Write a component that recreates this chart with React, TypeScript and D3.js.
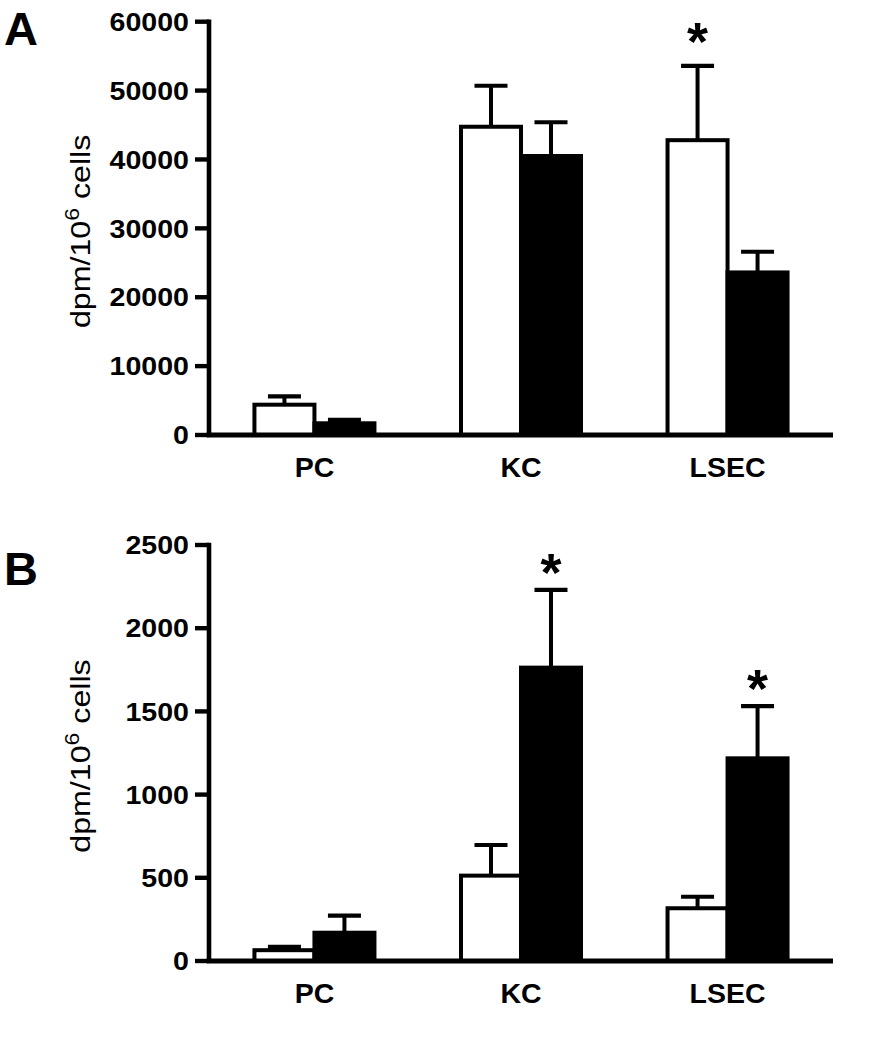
import React from "react";
import * as d3 from "d3";

// ---------- data ----------
const categories = ["PC", "KC", "LSEC"];
const seriesKeys = ["white", "black"];

const aWhite = [4400, 44750, 42800];
const aWhiteErr = [1200, 5950, 10800];
const aBlack = [1700, 40500, 23600];
const aBlackErr = [500, 4900, 3000];
const aTicks = [0, 10000, 20000, 30000, 40000, 50000, 60000];
const aStars = [{ cat: "LSEC", series: "white" }];

const bWhite = [65, 513, 317];
const bWhiteErr = [20, 184, 69];
const bBlack = [170, 1763, 1218];
const bBlackErr = [103, 467, 314];
const bTicks = [0, 500, 1000, 1500, 2000, 2500];
const bStars = [
  { cat: "KC", series: "black" },
  { cat: "LSEC", series: "black" },
];

// ---------- layout ----------
const W = 873;
const H = 1050;
const AX_X = 209;
const AX_END = 833;
const FONT = "'Liberation Sans', Arial, Helvetica, sans-serif";

const panels = [
  {
    letter: "A",
    letterY: 45,
    ticks: aTicks,
    white: aWhite,
    whiteErr: aWhiteErr,
    black: aBlack,
    blackErr: aBlackErr,
    stars: aStars,
    starGap: 33,
    yBottom: 435,
    yTop: 21.7,
  },
  {
    letter: "B",
    letterY: 585,
    ticks: bTicks,
    white: bWhite,
    whiteErr: bWhiteErr,
    black: bBlack,
    blackErr: bBlackErr,
    stars: bStars,
    starGap: 26,
    yBottom: 961,
    yTop: 545,
  },
];

const x = d3
  .scaleBand<string>()
  .domain(categories)
  .range([AX_X, AX_END])
  .paddingInner(0.419)
  .paddingOuter(0.22);

const sub = d3
  .scaleBand<string>()
  .domain(seriesKeys)
  .range([0, x.bandwidth()])
  .padding(0);

function Panel({ p }: { p: (typeof panels)[number] }) {
  const maxTick = p.ticks[p.ticks.length - 1];
  const y = d3.scaleLinear().domain([0, maxTick]).range([p.yBottom, p.yTop]);
  const vals: Record<string, number[]> = { white: p.white, black: p.black };
  const errs: Record<string, number[]> = { white: p.whiteErr, black: p.blackErr };
  const capHalf = 16.5;

  return (
    <g>
      <text x={4} y={p.letterY} fontFamily={FONT} fontWeight="bold" fontSize={47} fill="#000">
        {p.letter}
      </text>

      {/* bars */}
      {categories.map((c, i) =>
        seriesKeys.map((s) => {
          const v = vals[s][i];
          const e = errs[s][i];
          const bx = (x(c) as number) + (sub(s) as number);
          const bw = sub.bandwidth();
          const cx = bx + bw / 2;
          const yv = y(v);
          const ye = y(v + e);
          return (
            <g key={c + s}>
              <line x1={cx} x2={cx} y1={yv} y2={ye} stroke="#000" strokeWidth={4} />
              <line x1={cx - capHalf} x2={cx + capHalf} y1={ye} y2={ye} stroke="#000" strokeWidth={4.2} />
              <rect
                x={bx}
                y={yv}
                width={bw}
                height={p.yBottom - yv}
                fill={s === "white" ? "#fff" : "#000"}
                stroke="#000"
                strokeWidth={4}
              />
            </g>
          );
        })
      )}

      {/* stars */}
      {p.stars.map((st, k) => {
        const i = categories.indexOf(st.cat);
        const v = vals[st.series][i] + errs[st.series][i];
        const cx = (x(st.cat) as number) + (sub(st.series) as number) + sub.bandwidth() / 2;
        return (
          <text
            key={k}
            x={cx}
            y={y(v) + 27 - p.starGap}
            textAnchor="middle"
            fontFamily={FONT}
            fontWeight="bold"
            fontSize={54}
            fill="#000"
          >
            *
          </text>
        );
      })}

      {/* y axis */}
      <line x1={AX_X} x2={AX_X} y1={p.yTop - 2.2} y2={p.yBottom} stroke="#000" strokeWidth={4.6} />
      {p.ticks.map((t) => (
        <g key={t}>
          <line x1={AX_X - 14} x2={AX_X} y1={y(t)} y2={y(t)} stroke="#000" strokeWidth={4.4} />
          <text
            transform={`translate(189,${y(t)}) scale(1.12,1)`}
            dy="0.36em"
            textAnchor="end"
            fontFamily={FONT}
            fontWeight="bold"
            fontSize={25.5}
            fill="#000"
          >
            {t}
          </text>
        </g>
      ))}

      {/* x axis */}
      <line x1={AX_X - 2.3} x2={AX_END} y1={p.yBottom} y2={p.yBottom} stroke="#000" strokeWidth={5} />
      {categories.map((c) => (
        <text
          key={c}
          x={(x(c) as number) + x.bandwidth() / 2}
          y={p.yBottom + 42}
          textAnchor="middle"
          fontFamily={FONT}
          fontWeight="bold"
          fontSize={28.5}
          fill="#000"
        >
          {c}
        </text>
      ))}

      {/* y label */}
      <text
        transform={`translate(90,${(p.yTop + p.yBottom) / 2 + 3}) rotate(-90) scale(1.15,1)`}
        textAnchor="middle"
        fontFamily={FONT}
        fontSize={28}
        fill="#000"
      >
        dpm/10
        <tspan dy={-11} fontSize={20}>
          6
        </tspan>
        <tspan dy={11}> cells</tspan>
      </text>
    </g>
  );
}

export default function App() {
  return (
    <svg
      width={W}
      height={H}
      viewBox={`0 0 ${W} ${H}`}
      style={{ position: "absolute", left: 0, top: 0, background: "#fff" }}
    >
      <rect width={W} height={H} fill="#fff" />
      {panels.map((p) => (
        <Panel key={p.letter} p={p} />
      ))}
    </svg>
  );
}
